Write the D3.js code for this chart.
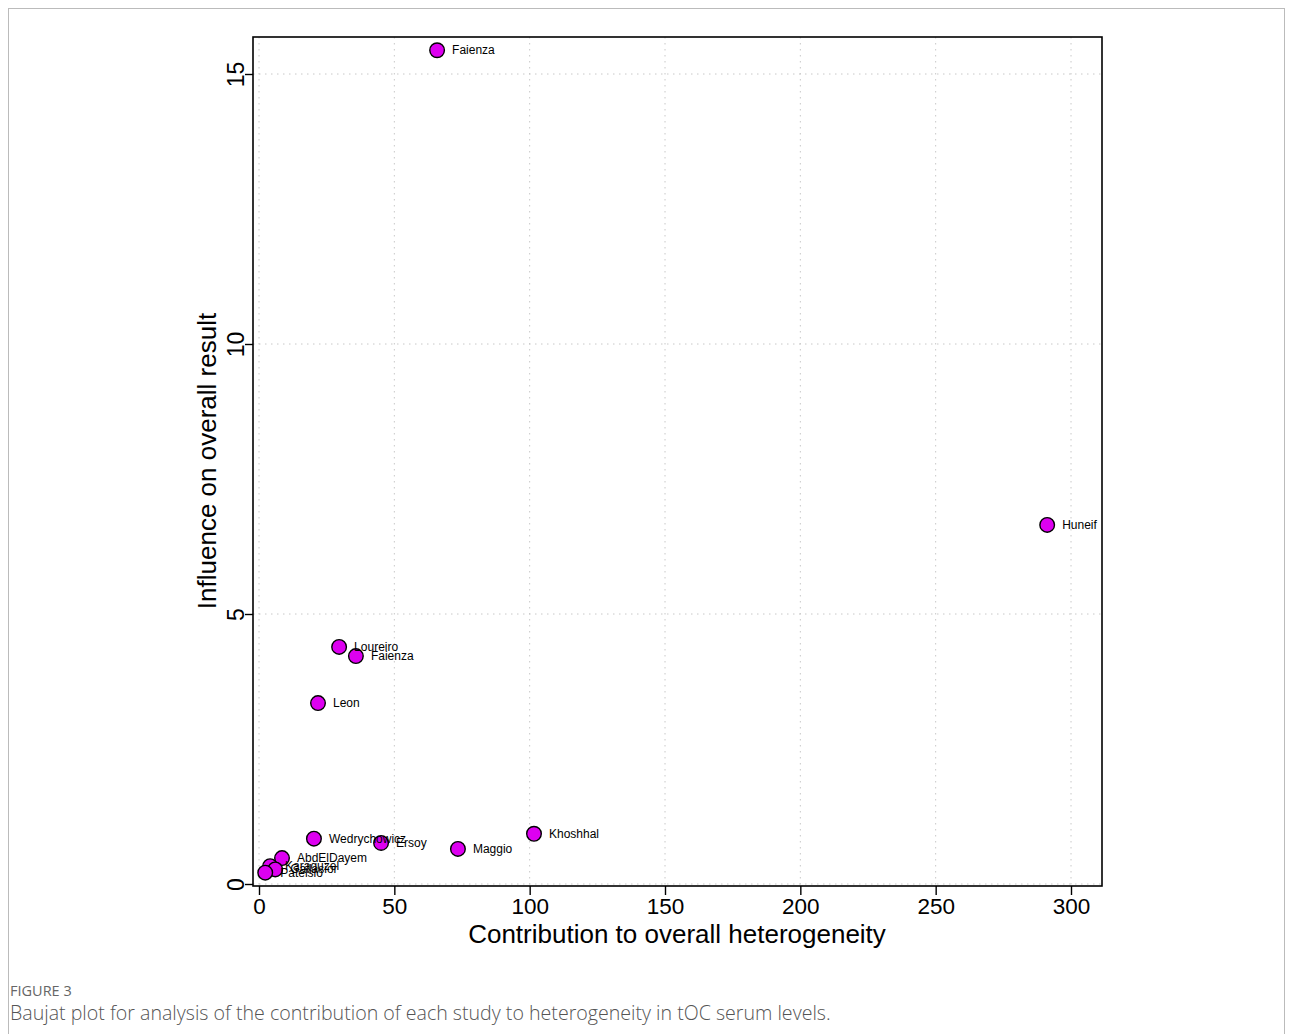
<!DOCTYPE html>
<html><head><meta charset="utf-8">
<script src="https://cdn.jsdelivr.net/npm/d3@7"></script>
<style>body{margin:0;background:#fff}svg{display:block}</style>
</head><body>
<script>
const studies = ["Faienza","Huneif","Loureiro","Faienza","Leon","Wedrychowicz","Ersoy","Maggio","Khoshhal","AbdElDayem","Karaguzel","Gallasior","Patelsio"];
const heterogeneity = [65.8,291.2,29.6,35.8,21.8,20.3,45.1,73.5,101.6,8.5,4.1,6.0,2.3];
const influence = [15.44,6.65,4.39,4.22,3.35,0.84,0.76,0.65,0.93,0.48,0.33,0.27,0.21];
const xTicks = [0,50,100,150,200,250,300];
const yTicks = [0,5,10,15];

const W=1293,H=1034;
const svg=d3.select("body").append("svg").attr("width",W).attr("height",H);
svg.append("rect").attr("x",8.5).attr("y",8.5).attr("width",W-17).attr("height",H+20)
  .attr("fill","none").attr("stroke","#bbb").attr("stroke-width",1);

const box={l:253,r:1102,t:37,b:886};
const x=d3.scaleLinear().domain([0,300]).range([259,1071]);
const y=d3.scaleLinear().domain([0,15]).range([884,74]);

const g=svg.append("g");
g.selectAll(".gx").data(xTicks).join("line").attr("x1",d=>x(d)).attr("x2",d=>x(d))
  .attr("y1",box.t).attr("y2",box.b).attr("stroke","#c8c8c8").attr("stroke-dasharray","1.5,4.5").attr("stroke-width",1);
g.selectAll(".gy").data(yTicks).join("line").attr("y1",d=>y(d)).attr("y2",d=>y(d))
  .attr("x1",box.l).attr("x2",box.r).attr("stroke","#c8c8c8").attr("stroke-dasharray","1.5,4.5").attr("stroke-width",1);
g.append("rect").attr("x",box.l).attr("y",box.t).attr("width",box.r-box.l).attr("height",box.b-box.t)
  .attr("fill","none").attr("stroke","#000").attr("stroke-width",1.6);

const xa=svg.append("g").attr("transform",`translate(0,${box.b})`)
  .call(d3.axisBottom(x).tickValues(xTicks).tickSize(9).tickPadding(3).tickFormat(d3.format("d")));
xa.select(".domain").remove();
xa.selectAll("line").attr("stroke","#000").attr("stroke-width",1.4);
xa.selectAll("text").attr("font-family","Liberation Sans, Arial, sans-serif").attr("font-size",22.5).attr("fill","#000");

const ya=svg.append("g").attr("transform",`translate(${box.l},0)`)
  .call(d3.axisLeft(y).tickValues(yTicks).tickSize(8).tickFormat(d3.format("d")));
ya.select(".domain").remove();
ya.selectAll("line").attr("stroke","#000").attr("stroke-width",1.4);
ya.selectAll("text").attr("font-family","Liberation Sans, Arial, sans-serif").attr("font-size",23).attr("fill","#000")
  .attr("x",0).attr("text-anchor","middle")
  .attr("transform","translate(-9,0) rotate(-90)").attr("dy","0");

svg.append("text").attr("x",677).attr("y",943).attr("text-anchor","middle")
  .attr("font-family","Liberation Sans, Arial, sans-serif").attr("font-size",26).text("Contribution to overall heterogeneity");
svg.append("text").attr("transform","translate(216,461) rotate(-90)").attr("text-anchor","middle")
  .attr("font-family","Liberation Sans, Arial, sans-serif").attr("font-size",26).text("Influence on overall result");

const data=studies.map((s,i)=>({s,h:heterogeneity[i],v:influence[i]}));
svg.append("g").selectAll("circle").data(data).join("circle")
  .attr("cx",d=>x(d.h)).attr("cy",d=>y(d.v)).attr("r",7.3)
  .attr("fill","#dd00f0").attr("stroke","#000").attr("stroke-width",1.4);
svg.append("g").selectAll("text").data(data).join("text")
  .attr("x",d=>x(d.h)+15).attr("y",d=>y(d.v)+4)
  .attr("font-family","Liberation Sans, Arial, sans-serif").attr("font-size",12).attr("fill","#000")
  .text(d=>d.s);

svg.append("text").attr("x",10).attr("y",996).attr("font-family","Open Sans, sans-serif")
  .attr("font-size",14.5).attr("fill","#666").text("FIGURE 3");
svg.append("text").attr("x",10).attr("y",1020).attr("font-family","Open Sans, sans-serif")
  .attr("font-size",19.6).attr("font-weight",300).attr("fill","#555")
  .text("Baujat plot for analysis of the contribution of each study to heterogeneity in tOC serum levels.");
</script>
</body></html>
